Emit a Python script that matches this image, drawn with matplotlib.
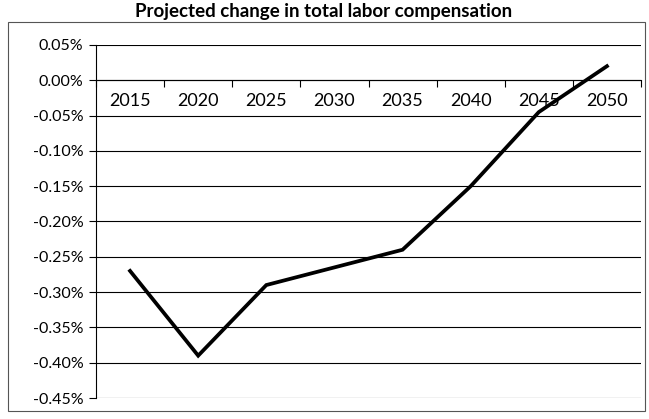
import matplotlib.pyplot as plt
from matplotlib.patches import Rectangle
from matplotlib.ticker import FuncFormatter

years = ['2015', '2020', '2025', '2030', '2035', '2040', '2045', '2050']
change = [-0.27, -0.39, -0.29, -0.265, -0.24, -0.15, -0.045, 0.02]  # percent
y_ticks = [0.05, 0.0, -0.05, -0.10, -0.15, -0.20, -0.25, -0.30, -0.35, -0.40, -0.45]

plt.rcParams['font.family'] = ['Lato', 'DejaVu Sans']

fig = plt.figure(figsize=(6.49, 4.19), dpi=100)
W, H = 649, 419

# outer chart border
fig.patches.append(Rectangle((8 / W, 1 - 411 / H), (645 - 8) / W, (411 - 22) / H,
                             transform=fig.transFigure, fill=False,
                             edgecolor='#555555', linewidth=0.8))

ax = fig.add_axes([96 / W, 1 - 398 / H, (641 - 96) / W, (398 - 45) / H])

x = range(len(years))
ax.plot(x, change, color='black', linewidth=2.7, solid_joinstyle='miter')

ax.set_xlim(-0.5, len(years) - 0.5)
ax.set_ylim(-0.45, 0.05)
ax.set_yticks(y_ticks)
ax.yaxis.set_major_formatter(FuncFormatter(lambda v, p: '%.2f%%' % v))
ax.grid(axis='y', color='black', linewidth=0.8)
ax.set_axisbelow(True)

ax.set_xticks([i - 0.5 for i in range(len(years) + 1)])
ax.set_xticklabels([])
ax.set_xticks(list(x), minor=True)
ax.set_xticklabels(years, minor=True)
ax.tick_params(axis='x', which='major', direction='out', length=5, width=0.8, color='black')
ax.tick_params(axis='x', which='minor', length=0, pad=9, labelsize=13)
ax.tick_params(axis='y', direction='out', length=5, width=0.8, labelsize=11.5, pad=4)

ax.spines['bottom'].set_position(('data', 0))
ax.spines['bottom'].set_linewidth(0.8)
ax.spines['left'].set_linewidth(0.8)
ax.spines['top'].set_visible(False)
ax.spines['right'].set_visible(False)

fig.text(324 / W, 1 - 12 / H, 'Projected change in total labor compensation',
         ha='center', va='center', fontsize=13.5, fontweight='bold')

fig.savefig('out.png', dpi=100)
